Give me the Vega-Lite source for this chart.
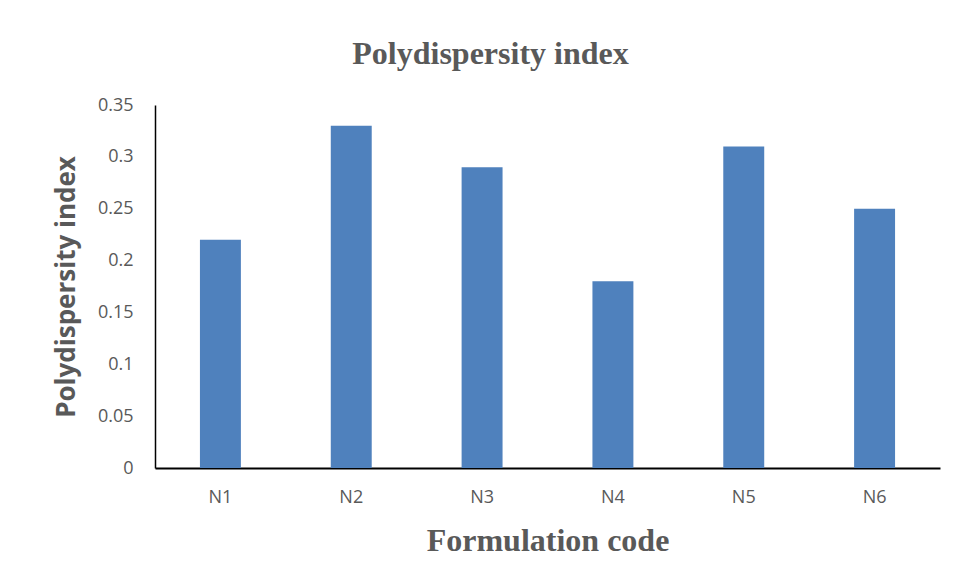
{
  "$schema": "https://vega.github.io/schema/vega-lite/v6.json",
  "width": 785,
  "height": 363,
  "autosize": "none",
  "padding": {"left": 155, "top": 105, "right": 15, "bottom": 114},
  "background": "white",
  "title": {
    "text": "Polydispersity index",
    "font": "Liberation Serif",
    "fontSize": 32,
    "fontWeight": "bold",
    "color": "#595959",
    "anchor": "middle",
    "dx": -57,
    "offset": 25
  },
  "data": {
    "values": [
      {"code": "N1", "pdi": 0.22},
      {"code": "N2", "pdi": 0.33},
      {"code": "N3", "pdi": 0.29},
      {"code": "N4", "pdi": 0.18},
      {"code": "N5", "pdi": 0.31},
      {"code": "N6", "pdi": 0.25}
    ]
  },
  "mark": {"type": "bar", "color": "#4F81BD", "width": {"band": 0.313}},
  "encoding": {
    "x": {
      "field": "code",
      "type": "nominal",
      "sort": null,
      "scale": {"paddingInner": 0, "paddingOuter": 0},
      "axis": {
        "title": "Formulation code",
        "titleFont": "Liberation Serif",
        "titleFontSize": 32,
        "titleFontWeight": "bold",
        "titleColor": "#595959",
        "titlePadding": 19,
        "labelAngle": 0,
        "labelFont": "Open Sans",
        "labelFontSize": 18,
        "labelColor": "#595959",
        "labelPadding": 20,
        "ticks": false,
        "domainColor": "#000000",
        "domainWidth": 2
      }
    },
    "y": {
      "field": "pdi",
      "type": "quantitative",
      "scale": {"domain": [0, 0.35]},
      "axis": {
        "title": "Polydispersity index",
        "titleFont": "Open Sans",
        "titleFontSize": 26,
        "titleFontWeight": "bold",
        "titleColor": "#595959",
        "titlePadding": 18,
        "values": [0, 0.05, 0.1, 0.15, 0.2, 0.25, 0.3, 0.35],
        "format": ".2~f",
        "labelFont": "Open Sans",
        "labelFontSize": 18,
        "labelColor": "#595959",
        "labelPadding": 22,
        "ticks": false,
        "grid": false,
        "domainColor": "#000000",
        "domainWidth": 1.5
      }
    }
  },
  "config": {"view": {"stroke": null}}
}
